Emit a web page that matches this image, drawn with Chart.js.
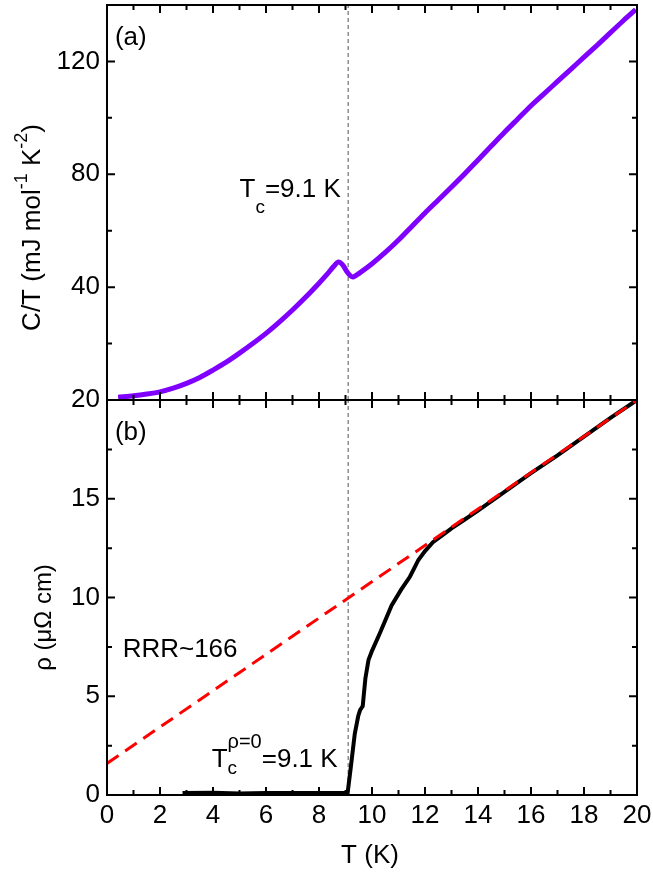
<!DOCTYPE html>
<html>
<head>
<meta charset="utf-8">
<script src="https://cdn.jsdelivr.net/npm/chart.js@4.4.1/dist/chart.umd.min.js"></script>
<style>
  html, body { margin: 0; padding: 0; background: #fff; }
  #wrap { position: relative; width: 653px; height: 875px; }
  #heatCanvas { position: absolute; left: 0; top: 0; }
  #rhoCanvas { position: absolute; left: 0; top: 380px; }
</style>
</head>
<body>
<div id="wrap">
  <canvas id="heatCanvas" width="653" height="420"></canvas>
  <canvas id="rhoCanvas" width="653" height="495"></canvas>
</div>
<script>
// panel (a): specific heat C/T
const tempHeat = [0.42, 1.0, 1.5, 2.0, 2.5, 3.0, 3.5, 4.0, 4.5, 5.0, 5.5, 6.0, 6.5, 7.0, 7.5, 8.0, 8.3, 8.55, 8.73, 8.9, 9.05, 9.2, 9.3, 9.5, 10.0, 10.5, 11.0, 11.5, 12.0, 12.5, 13.0, 13.5, 14.0, 14.5, 15.0, 15.5, 16.0, 16.5, 17.0, 17.5, 18.0, 18.5, 19.0, 19.5, 19.95];
const heatOverT = [1.0, 1.5, 2.1, 2.9, 4.2, 5.9, 8.0, 10.6, 13.4, 16.6, 20.0, 23.6, 27.6, 31.9, 36.5, 41.4, 44.5, 47.3, 48.9, 47.8, 45.5, 43.9, 43.6, 44.8, 48.3, 52.3, 56.7, 61.5, 66.3, 70.9, 75.5, 80.2, 85.1, 90.0, 94.9, 99.6, 104.3, 108.6, 112.9, 117.2, 121.5, 125.8, 130.2, 134.6, 138.4];

// panel (b): resistivity
const tempRho = [2.85, 4.0, 5.0, 6.0, 7.0, 8.0, 9.08, 9.2, 9.35, 9.48, 9.55, 9.65, 9.75, 9.87, 10.0, 10.3, 10.74, 11.1, 11.43, 11.6, 11.75, 12.0, 12.3, 12.7, 13.0, 13.5, 14.0, 15.0, 16.0, 17.0, 18.0, 19.0, 20.0];
const rho = [0.1, 0.12, 0.08, 0.1, 0.1, 0.1, 0.1, 1.4, 3.1, 4.0, 4.3, 4.5, 5.9, 6.85, 7.3, 8.2, 9.6, 10.4, 11.05, 11.5, 11.9, 12.35, 12.8, 13.2, 13.5, 13.95, 14.4, 15.35, 16.3, 17.2, 18.15, 19.1, 20.0];

// linear normal-state fit
const fitTemp = [0, 20];
const fitRho = [1.6, 20];

const tcK = 9.1;
const tempTicks = [0, 2, 4, 6, 8, 10, 12, 14, 16, 18, 20];
const heatTicks = [40, 80, 120];
const rhoTicks = [0, 5, 10, 15, 20];

const FONT = '"Liberation Sans", Arial, sans-serif';

function toPoints(xs, ys) {
  return xs.map((x, i) => ({ x: x, y: ys[i] }));
}

function richWidth(ctx, parts) {
  let w = 0, pending = 0;
  parts.forEach(p => {
    ctx.font = p.size + 'px ' + FONT;
    const pw = ctx.measureText(p.text).width;
    if (p.stack) { pending = Math.max(pending, pw); }
    else { w += Math.max(pw, pending); pending = 0; }
  });
  return w;
}

function drawRich(ctx, x, y, parts) {
  let cx = x, pending = 0;
  parts.forEach(p => {
    ctx.font = p.size + 'px ' + FONT;
    const pw = ctx.measureText(p.text).width;
    ctx.fillText(p.text, cx, y + (p.dy || 0));
    if (p.stack) { pending = Math.max(pending, pw); }
    else { cx += Math.max(pw, pending); pending = 0; }
  });
}

// frame with inward ticks on all four sides
const frameTicks = {
  id: 'frameTicks',
  afterDatasetsDraw(chart, args, opts) {
    const { ctx, chartArea: a, scales: { x, y } } = chart;
    ctx.save();
    ctx.strokeStyle = '#000';
    ctx.lineWidth = 2;
    ctx.beginPath();
    const isMajor = (v, step) => Math.abs(v / step - Math.round(v / step)) < 1e-6;
    for (let v = x.min; v <= x.max + 1e-9; v += opts.xMinor) {
      const px = x.getPixelForValue(v);
      const len = isMajor(v, opts.xMajor) ? 8 : 5;
      ctx.moveTo(px, a.bottom); ctx.lineTo(px, a.bottom - len);
      ctx.moveTo(px, a.top); ctx.lineTo(px, a.top + len);
    }
    for (let v = y.min; v <= y.max + 1e-9; v += opts.yMinor) {
      const py = y.getPixelForValue(v);
      const len = isMajor(v, opts.yMajor) ? 8 : 5;
      ctx.moveTo(a.left, py); ctx.lineTo(a.left + len, py);
      ctx.moveTo(a.right, py); ctx.lineTo(a.right - len, py);
    }
    ctx.stroke();
    ctx.strokeRect(a.left, a.top, a.right - a.left, a.bottom - a.top);
    ctx.restore();
  }
};

// labels, sub/superscripts and axis titles
const panelText = {
  id: 'panelText',
  afterDraw(chart, args, opts) {
    const { ctx, chartArea: a, scales: { x, y } } = chart;
    ctx.save();
    ctx.fillStyle = '#000';
    ctx.textBaseline = 'alphabetic';
    ctx.textAlign = 'left';
    (opts.notes || []).forEach(n => {
      drawRich(ctx, x.getPixelForValue(n.x), y.getPixelForValue(n.y), n.parts);
    });
    (opts.titles || []).forEach(t => {
      const cx = t.fx(a), cy = t.fy(a);
      const w = richWidth(ctx, t.parts);
      ctx.save();
      ctx.translate(cx, cy);
      if (t.rotate) ctx.rotate(-Math.PI / 2);
      drawRich(ctx, -w / 2, 0, t.parts);
      ctx.restore();
    });
    ctx.restore();
  }
};

const tickFont = { family: FONT, size: 26 };

function fixY(s) { s.width = 107; s.paddingTop = 0; s.paddingBottom = 0; }
function fixX(s) { s.height = 80; s.paddingLeft = 0; s.paddingRight = 0; }

new Chart(document.getElementById('heatCanvas'), {
  type: 'line',
  data: {
    datasets: [
      {
        data: toPoints(tempHeat, heatOverT),
        borderColor: '#7f00ff',
        borderWidth: 5,
        pointRadius: 0,
        tension: 0.3,
        order: 0
      },
      {
        data: toPoints([tcK, tcK], [0, 140]),
        borderColor: '#555',
        borderWidth: 1,
        borderDash: [4, 3],
        pointRadius: 0,
        order: 1
      }
    ]
  },
  options: {
    responsive: false,
    animation: false,
    layout: { padding: { left: 0, right: 16, top: 5, bottom: 20 } },
    plugins: {
      legend: { display: false },
      tooltip: { enabled: false },
      frameTicks: { xMinor: 1, xMajor: 2, yMinor: 20, yMajor: 40 },
      panelText: {
        notes: [
          { x: 0.3, y: 126, parts: [{ text: '(a)', size: 26 }] },
          { x: 5.0, y: 72, parts: [
            { text: 'T', size: 26 },
            { text: 'c', size: 19, dy: 16 },
            { text: '=9.1 K', size: 26 }
          ] }
        ],
        titles: [
          { rotate: true, fx: a => a.left - 67, fy: a => (a.top + a.bottom) / 2 + 25, parts: [
            { text: 'C/T (mJ mol', size: 26 },
            { text: '-1', size: 18, dy: -13 },
            { text: ' K', size: 26 },
            { text: '-2', size: 18, dy: -13 },
            { text: ')', size: 26 }
          ] }
        ]
      }
    },
    scales: {
      x: { type: 'linear', min: 0, max: 20, display: false },
      y: {
        type: 'linear', min: 0, max: 140,
        afterFit: fixY,
        afterBuildTicks(s) { s.ticks = heatTicks.map(v => ({ value: v })); },
        grid: { display: false, drawTicks: false },
        border: { display: false },
        ticks: { font: tickFont, color: '#000', padding: 7 }
      }
    }
  },
  plugins: [frameTicks, panelText]
});

new Chart(document.getElementById('rhoCanvas'), {
  type: 'line',
  data: {
    datasets: [
      {
        data: toPoints(fitTemp, fitRho),
        borderColor: '#ff0000',
        borderWidth: 3,
        borderDash: [14, 8],
        pointRadius: 0,
        order: 0
      },
      {
        data: toPoints(tempRho, rho),
        borderColor: '#000',
        borderWidth: 4,
        pointRadius: 0,
        tension: 0,
        order: 1
      },
      {
        data: toPoints([tcK, tcK], [0, 20]),
        borderColor: '#555',
        borderWidth: 1,
        borderDash: [4, 3],
        pointRadius: 0,
        order: 2
      }
    ]
  },
  options: {
    responsive: false,
    animation: false,
    layout: { padding: { left: 0, right: 16, top: 20, bottom: 0 } },
    plugins: {
      legend: { display: false },
      tooltip: { enabled: false },
      frameTicks: { xMinor: 1, xMajor: 2, yMinor: 2.5, yMajor: 5 },
      panelText: {
        notes: [
          { x: 0.3, y: 18.0, parts: [{ text: '(b)', size: 26 }] },
          { x: 0.59, y: 7.0, parts: [{ text: 'RRR~166', size: 26 }] },
          { x: 3.95, y: 1.4, parts: [
            { text: 'T', size: 26 },
            { text: 'c', size: 19, dy: 7, stack: true },
            { text: '\u03c1=0', size: 20, dy: -19 },
            { text: '=9.1 K', size: 26 }
          ] }
        ],
        titles: [
          { rotate: true, fx: a => a.left - 56, fy: a => (a.top + a.bottom) / 2 + 20, parts: [
            { text: '\u03c1 (\u03bc\u03a9 cm)', size: 24 }
          ] },
          { rotate: false, fx: a => (a.left + a.right) / 2 - 2, fy: a => a.bottom + 68, parts: [
            { text: 'T (K)', size: 26 }
          ] }
        ]
      }
    },
    scales: {
      x: {
        type: 'linear', min: 0, max: 20,
        afterFit: fixX,
        afterBuildTicks(s) { s.ticks = tempTicks.map(v => ({ value: v })); },
        grid: { display: false, drawTicks: false },
        border: { display: false },
        ticks: { font: tickFont, color: '#000', padding: 5, maxRotation: 0, autoSkip: false }
      },
      y: {
        type: 'linear', min: 0, max: 20,
        afterFit: fixY,
        afterBuildTicks(s) { s.ticks = rhoTicks.map(v => ({ value: v })); },
        grid: { display: false, drawTicks: false },
        border: { display: false },
        ticks: { font: tickFont, color: '#000', padding: 7 }
      }
    }
  },
  plugins: [frameTicks, panelText]
});
</script>
</body>
</html>
